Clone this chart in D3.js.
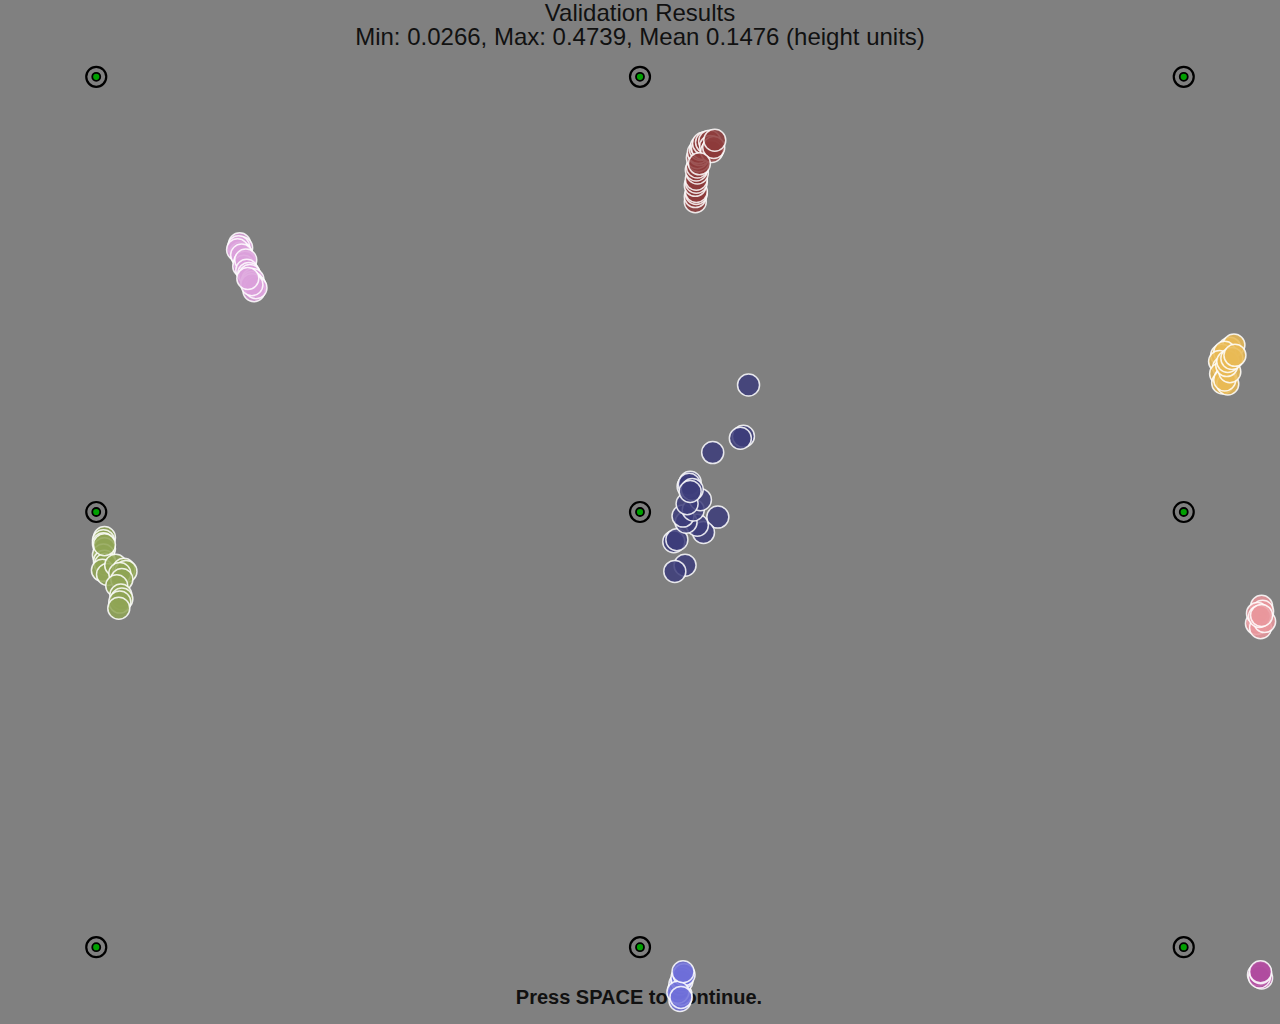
<!DOCTYPE html>
<html>
<head>
<meta charset="utf-8">
<script src="https://cdn.jsdelivr.net/npm/d3@7"></script>
<style>
  html, body { margin: 0; padding: 0; background: #808080; overflow: hidden; }
  svg { display: block; }
</style>
</head>
<body>
<div id="chart"></div>
<script>
  // validation targets, in height units (screen is 1.25 x 1.0)
  const target_x = [-0.531, 0, 0.531];
  const target_y = [0.425, 0, -0.425];

  // gaze samples per target, [x, y] in height units, last one drawn on top
  const samples_top_left = [
    [-0.391, 0.262], [-0.389, 0.258], [-0.392, 0.259], [-0.390, 0.253], [-0.388, 0.249],
    [-0.393, 0.256], [-0.389, 0.251], [-0.386, 0.244], [-0.387, 0.240], [-0.385, 0.246],
    [-0.384, 0.236], [-0.382, 0.233], [-0.381, 0.231], [-0.378, 0.227], [-0.379, 0.224],
    [-0.376, 0.221], [-0.377, 0.216], [-0.375, 0.219], [-0.379, 0.222], [-0.383, 0.228]
  ];
  const samples_top_mid = [
    [0.054, 0.303], [0.054, 0.308], [0.055, 0.311], [0.055, 0.313], [0.054, 0.319],
    [0.055, 0.322], [0.055, 0.325], [0.056, 0.331], [0.055, 0.334], [0.056, 0.337],
    [0.057, 0.343], [0.056, 0.346], [0.058, 0.349], [0.057, 0.351], [0.059, 0.354],
    [0.060, 0.357], [0.061, 0.355], [0.062, 0.360], [0.065, 0.361], [0.068, 0.362],
    [0.069, 0.357], [0.071, 0.354], [0.070, 0.352], [0.072, 0.356], [0.058, 0.340],
    [0.073, 0.363]
  ];
  const samples_top_right = [
    [0.576, 0.160], [0.580, 0.163], [0.568, 0.153], [0.571, 0.156], [0.566, 0.147],
    [0.570, 0.141], [0.567, 0.135], [0.572, 0.131], [0.569, 0.126], [0.574, 0.125],
    [0.571, 0.129], [0.576, 0.137], [0.573, 0.143], [0.574, 0.147], [0.578, 0.150],
    [0.581, 0.153]
  ];
  const samples_mid_left = [
    [-0.523, -0.025], [-0.524, -0.028], [-0.524, -0.031], [-0.523, -0.036], [-0.524, -0.042],
    [-0.523, -0.048], [-0.522, -0.051], [-0.525, -0.057], [-0.520, -0.061], [-0.512, -0.052],
    [-0.504, -0.056], [-0.502, -0.058], [-0.508, -0.060], [-0.506, -0.066], [-0.511, -0.072],
    [-0.507, -0.081], [-0.506, -0.085], [-0.508, -0.088], [-0.523, -0.032], [-0.509, -0.094]
  ];
  const samples_mid_mid = [
    [0.106, 0.124], [0.101, 0.074], [0.098, 0.072], [0.071, 0.058], [0.076, -0.005],
    [0.044, -0.052], [0.034, -0.058], [0.033, -0.029], [0.036, -0.027], [0.062, -0.020],
    [0.056, -0.013], [0.045, -0.010], [0.042, -0.004], [0.052, 0.002], [0.059, 0.012],
    [0.046, 0.008], [0.047, 0.025], [0.049, 0.029], [0.048, 0.027], [0.051, 0.022],
    [0.049, 0.020]
  ];
  const samples_mid_right = [
    [0.607, -0.092], [0.604, -0.106], [0.602, -0.109], [0.606, -0.113], [0.610, -0.107],
    [0.608, -0.097], [0.603, -0.099], [0.605, -0.102], [0.607, -0.101]
  ];
  const samples_bot_mid = [
    [0.039, -0.477], [0.040, -0.471], [0.038, -0.466], [0.039, -0.461], [0.041, -0.458],
    [0.041, -0.455], [0.043, -0.452], [0.037, -0.469], [0.040, -0.474], [0.042, -0.449]
  ];
  const samples_bot_right = [
    [0.606, -0.453], [0.607, -0.455], [0.604, -0.452], [0.605, -0.454], [0.606, -0.450],
    [0.606, -0.449]
  ];

  const clusters = [
    {pts: samples_top_left, color: '#dba0da'},
    {pts: samples_top_mid, color: '#8d3b3b'},
    {pts: samples_top_right, color: '#e9ba55'},
    {pts: samples_mid_left, color: '#8fa455'},
    {pts: samples_mid_mid, color: '#3c3c7a'},
    {pts: samples_mid_right, color: '#e9979c'},
    {pts: samples_bot_mid, color: '#6e6ed8'},
    {pts: samples_bot_right, color: '#b04c9f'}
  ];

  const title = 'Validation Results';
  const subtitle = 'Min: 0.0266, Max: 0.4739, Mean 0.1476 (height units)';
  const footer = 'Press SPACE to continue.';

  const width = 1280, height = 1024;

  const svg = d3.select('#chart')
    .append('svg')
      .attr('width', width)
      .attr('height', height);

  svg.append('rect')
    .attr('width', width)
    .attr('height', height)
    .attr('fill', '#808080');

  // height units -> pixels
  const xScale = d3.scaleLinear()
    .domain([-0.625, 0.625])
    .range([0, width]);
  const yScale = d3.scaleLinear()
    .domain([-0.5, 0.5])
    .range([height, 0]);

  // targets
  const targets = d3.cross(target_y, target_x, (y, x) => [x, y]);
  const tg = svg.append('g').attr('class', 'targets')
    .selectAll('g')
    .data(targets)
    .join('g')
      .attr('transform', d => `translate(${xScale(d[0])},${yScale(d[1])})`);
  tg.append('circle')
    .attr('r', 10)
    .attr('fill', 'none')
    .attr('stroke', 'black')
    .attr('stroke-width', 2.2);
  tg.append('circle')
    .attr('r', 4)
    .attr('fill', '#00a000')
    .attr('stroke', 'black')
    .attr('stroke-width', 1.8);

  // texts
  const font = "'Liberation Sans', Arial, sans-serif";
  svg.append('text')
    .attr('x', width / 2)
    .attr('y', 21)
    .attr('text-anchor', 'middle')
    .style('font-family', font)
    .style('font-size', '24px')
    .attr('fill', '#111')
    .text(title);
  svg.append('text')
    .attr('x', width / 2)
    .attr('y', 45)
    .attr('text-anchor', 'middle')
    .style('font-family', font)
    .style('font-size', '24px')
    .attr('fill', '#111')
    .text(subtitle);
  svg.append('text')
    .attr('x', width / 2 - 1)
    .attr('y', 1004)
    .attr('text-anchor', 'middle')
    .style('font-family', font)
    .style('font-size', '20px')
    .style('font-weight', 'bold')
    .attr('fill', '#111')
    .text(footer);

  // gaze samples
  clusters.forEach(c => {
    svg.append('g')
      .selectAll('circle')
      .data(c.pts)
      .join('circle')
        .attr('cx', d => xScale(d[0]))
        .attr('cy', d => yScale(d[1]))
        .attr('r', 11)
        .attr('fill', c.color)
        .attr('fill-opacity', 0.85)
        .attr('stroke', 'white')
        .attr('stroke-opacity', 0.85)
        .attr('stroke-width', 1.5);
  });
</script>
</body>
</html>
